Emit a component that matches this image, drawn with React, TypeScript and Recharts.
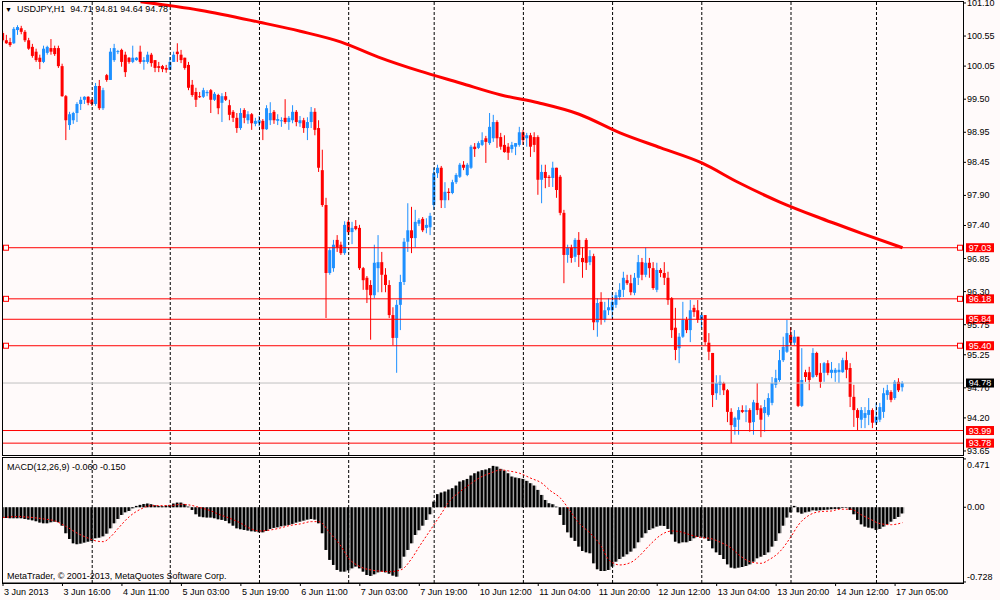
import { ComposedChart, Bar, Line, XAxis, YAxis, ReferenceLine } from 'recharts';

// USDJPY H1, 3 Jun 2013 00:00 .. 17 Jun 2013 07:00 (243 bars)
const opens = [
  100.60, 100.48, 100.45, 100.43, 100.65, 100.68, 100.62, 100.48, 100.37, 100.29,
  100.19, 100.12, 100.27, 100.35, 100.35, 100.35, 100.05, 99.55, 99.07, 99.15,
  99.27, 99.42, 99.49, 99.54, 99.49, 99.42, 99.72, 99.35, 99.90, 99.82,
  100.15, 100.29, 100.32, 100.24, 100.19, 100.12, 100.15, 100.29, 100.12, 100.12,
  100.24, 100.15, 100.05, 100.05, 100.02, 99.99, 100.12, 100.29, 100.24, 100.19,
  100.07, 99.74, 99.62, 99.55, 99.54, 99.60, 99.65, 99.49, 99.57, 99.44,
  99.55, 99.40, 99.29, 99.19, 99.02, 99.32, 99.15, 99.25, 99.09, 99.10,
  99.14, 99.00, 99.15, 99.29, 99.14, 99.14, 99.19, 99.12, 99.15, 99.29,
  99.10, 99.15, 99.02, 99.12, 99.29, 99.02, 98.32, 97.74, 96.61, 96.69,
  97.16, 97.08, 96.94, 97.46, 97.29, 97.39, 97.36, 96.69, 96.53, 96.41,
  96.24, 96.69, 96.79, 96.58, 96.41, 95.91, 95.53, 96.08, 96.46, 97.13,
  97.32, 97.19, 97.43, 97.51, 97.36, 97.37, 97.74, 98.27, 98.36, 97.82,
  97.96, 97.94, 98.12, 98.21, 98.41, 98.24, 98.36, 98.71, 98.69, 98.74,
  98.85, 98.77, 98.85, 99.12, 98.87, 98.74, 98.71, 98.67, 98.71, 98.74,
  98.95, 98.85, 98.90, 98.87, 98.87, 98.16, 98.29, 98.21, 98.19, 98.36,
  98.21, 97.61, 96.91, 97.03, 96.88, 97.16, 96.86, 97.16, 96.79, 96.89,
  95.79, 96.13, 95.83, 95.99, 95.99, 96.08, 96.21, 96.33, 96.49, 96.44,
  96.28, 96.53, 96.79, 96.58, 96.78, 96.69, 96.33, 96.66, 96.61, 96.53,
  96.19, 95.70, 95.36, 95.55, 95.83, 95.66, 96.03, 95.99, 95.83, 95.91,
  95.45, 95.28, 94.61, 94.75, 94.78, 94.66, 94.30, 94.05, 94.17, 94.33,
  94.30, 94.33, 94.13, 94.45, 94.36, 94.28, 94.25, 94.45, 94.75, 94.83,
  95.16, 95.30, 95.58, 95.45, 95.55, 94.40, 94.96, 94.96, 94.88, 95.28,
  94.95, 94.95, 95.11, 94.95, 94.95, 94.96, 94.96, 95.16, 95.03, 94.55,
  94.33, 94.17, 94.20, 94.25, 94.33, 94.12, 94.17, 94.30, 94.58, 94.63,
  94.53, 94.80, 94.71,
];

const highs = [
  100.63, 100.57, 100.52, 100.70, 100.73, 100.72, 100.65, 100.52, 100.42, 100.34,
  100.24, 100.39, 100.39, 100.50, 100.39, 100.39, 100.09, 99.57, 99.29, 99.29,
  99.45, 99.54, 99.55, 99.55, 99.50, 99.77, 99.82, 99.69, 99.92, 100.35,
  100.42, 100.32, 100.34, 100.29, 100.20, 100.39, 100.20, 100.39, 100.20, 100.29,
  100.27, 100.15, 100.12, 100.07, 100.07, 100.20, 100.29, 100.43, 100.32, 100.19,
  100.12, 99.82, 99.69, 99.62, 99.69, 99.65, 99.67, 99.62, 99.59, 99.60,
  99.62, 99.49, 99.32, 99.27, 99.35, 99.35, 99.30, 99.27, 99.19, 99.22,
  99.17, 99.40, 99.45, 99.32, 99.25, 99.20, 99.50, 99.22, 99.40, 99.32,
  99.22, 99.19, 99.20, 99.37, 99.35, 99.15, 98.66, 97.86, 97.03, 97.16,
  97.24, 97.13, 97.47, 97.49, 97.46, 97.49, 97.41, 96.71, 96.56, 96.49,
  97.08, 97.24, 96.96, 96.69, 96.49, 96.04, 96.16, 96.58, 97.19, 97.77,
  97.71, 97.66, 97.52, 97.54, 97.52, 97.61, 98.36, 98.41, 98.39, 98.12,
  98.02, 98.16, 98.27, 98.44, 98.47, 98.44, 98.74, 98.77, 98.80, 98.95,
  98.89, 99.27, 99.24, 99.15, 98.94, 98.90, 98.77, 98.79, 98.77, 99.04,
  98.99, 98.94, 98.94, 98.95, 98.90, 98.41, 98.41, 98.24, 98.46, 98.36,
  98.24, 97.66, 97.08, 97.08, 97.19, 97.29, 97.04, 97.19, 96.99, 96.93,
  96.19, 96.29, 96.13, 96.19, 96.29, 96.29, 96.44, 96.63, 96.58, 96.58,
  96.61, 96.91, 96.86, 97.03, 96.86, 96.79, 96.78, 96.69, 96.79, 96.63,
  96.21, 96.03, 95.61, 96.13, 95.88, 96.16, 96.08, 96.16, 95.94, 95.91,
  95.61, 95.28, 94.91, 94.91, 94.80, 94.68, 94.36, 94.22, 94.38, 94.41,
  94.41, 94.36, 94.50, 94.78, 94.41, 94.50, 94.61, 94.88, 95.00, 95.33,
  95.55, 95.83, 95.71, 95.66, 95.55, 95.36, 95.00, 95.05, 95.36, 95.30,
  95.11, 95.13, 95.16, 95.13, 95.03, 95.11, 95.20, 95.30, 95.11, 94.75,
  94.36, 94.38, 94.38, 94.53, 94.36, 94.45, 94.45, 94.70, 94.75, 94.66,
  94.83, 94.86, 94.81,
];

const lows = [
  100.45, 100.42, 100.37, 100.42, 100.57, 100.58, 100.45, 100.32, 100.19, 100.12,
  100.00, 100.10, 100.24, 100.24, 100.22, 100.02, 99.54, 98.82, 98.99, 99.09,
  99.12, 99.32, 99.42, 99.40, 99.39, 99.39, 99.32, 99.32, 99.79, 99.82,
  100.12, 100.25, 100.04, 99.87, 100.09, 100.10, 100.14, 100.09, 99.99, 100.09,
  100.04, 99.95, 99.95, 99.95, 99.94, 99.99, 100.12, 100.12, 100.10, 99.99,
  99.65, 99.54, 99.37, 99.52, 99.52, 99.55, 99.27, 99.47, 99.25, 99.12,
  99.47, 99.15, 99.12, 98.94, 98.99, 99.10, 99.09, 98.99, 99.05, 99.05,
  98.82, 98.99, 99.07, 99.09, 99.07, 99.04, 99.09, 98.99, 99.10, 99.05,
  99.04, 98.94, 98.82, 99.02, 98.90, 98.29, 97.71, 95.86, 96.58, 96.63,
  96.96, 96.91, 96.91, 97.24, 97.09, 97.32, 96.66, 96.33, 96.11, 95.50,
  96.19, 96.29, 96.29, 96.29, 95.86, 95.41, 94.95, 95.66, 96.41, 96.96,
  96.94, 97.04, 97.39, 97.29, 97.27, 97.24, 97.66, 98.19, 97.69, 97.69,
  97.82, 97.92, 98.09, 98.19, 98.32, 98.22, 98.34, 98.54, 98.67, 98.72,
  98.44, 98.74, 98.79, 98.69, 98.66, 98.61, 98.49, 98.61, 98.57, 98.71,
  98.74, 98.71, 98.54, 98.62, 97.91, 97.77, 98.02, 98.04, 98.04, 97.86,
  97.57, 96.44, 96.78, 96.78, 96.79, 96.71, 96.53, 96.66, 96.74, 95.66,
  95.55, 95.75, 95.79, 95.91, 95.83, 96.03, 96.16, 96.21, 96.41, 96.24,
  96.24, 96.41, 96.49, 96.54, 96.53, 96.33, 96.29, 96.54, 96.41, 96.08,
  95.53, 95.16, 95.11, 95.53, 95.61, 95.46, 95.88, 95.78, 95.70, 95.41,
  95.16, 94.38, 94.50, 94.58, 94.58, 94.13, 93.78, 93.92, 93.92, 94.28,
  94.13, 93.97, 93.92, 94.25, 93.88, 93.97, 94.22, 94.41, 94.70, 94.80,
  95.13, 95.28, 95.41, 95.41, 94.38, 94.38, 94.80, 94.66, 94.86, 94.88,
  94.70, 94.80, 94.91, 94.86, 94.80, 94.78, 94.95, 94.86, 94.38, 94.05,
  93.99, 94.03, 94.03, 94.08, 94.03, 94.08, 94.13, 94.20, 94.50, 94.46,
  94.50, 94.63, 94.64,
];

const closes = [
  100.48, 100.43, 100.40, 100.67, 100.70, 100.62, 100.48, 100.34, 100.22, 100.15,
  100.12, 100.34, 100.37, 100.29, 100.25, 100.05, 99.55, 99.15, 99.25, 99.27,
  99.42, 99.49, 99.54, 99.44, 99.42, 99.72, 99.35, 99.65, 99.82, 100.29,
  100.35, 100.30, 100.12, 99.95, 100.12, 100.19, 100.19, 100.12, 100.15, 100.24,
  100.10, 100.02, 100.02, 100.00, 99.99, 100.12, 100.24, 100.25, 100.15, 100.02,
  99.69, 99.57, 99.49, 99.54, 99.65, 99.62, 99.49, 99.59, 99.35, 99.55,
  99.49, 99.24, 99.19, 99.02, 99.27, 99.19, 99.25, 99.10, 99.14, 99.15,
  99.00, 99.35, 99.27, 99.15, 99.17, 99.15, 99.12, 99.19, 99.29, 99.12,
  99.15, 99.02, 99.12, 99.29, 98.99, 98.36, 97.74, 96.61, 96.99, 97.08,
  97.03, 96.94, 97.41, 97.29, 97.36, 97.34, 96.69, 96.49, 96.33, 96.24,
  96.78, 96.79, 96.58, 96.41, 95.91, 95.53, 96.08, 96.46, 97.13, 97.32,
  97.19, 97.46, 97.49, 97.32, 97.41, 97.56, 98.27, 98.36, 97.82, 97.96,
  97.94, 98.12, 98.24, 98.41, 98.36, 98.41, 98.71, 98.67, 98.77, 98.82,
  98.79, 99.04, 99.12, 98.85, 98.71, 98.62, 98.61, 98.74, 98.77, 98.95,
  98.82, 98.90, 98.71, 98.74, 98.16, 98.29, 98.19, 98.19, 98.36, 97.99,
  97.61, 96.91, 97.03, 96.86, 97.16, 96.91, 96.79, 96.78, 96.89, 95.79,
  96.11, 95.83, 95.99, 96.04, 96.13, 96.24, 96.33, 96.53, 96.44, 96.29,
  96.53, 96.79, 96.58, 96.78, 96.69, 96.36, 96.66, 96.61, 96.53, 96.16,
  95.66, 95.33, 95.55, 95.83, 95.66, 95.99, 95.96, 95.83, 95.91, 95.46,
  95.30, 94.58, 94.78, 94.80, 94.66, 94.30, 94.08, 94.20, 94.33, 94.30,
  94.33, 94.12, 94.46, 94.33, 94.17, 94.38, 94.53, 94.78, 94.86, 95.16,
  95.38, 95.61, 95.45, 95.55, 94.40, 94.83, 94.88, 94.83, 95.28, 94.91,
  94.80, 95.11, 94.95, 95.00, 95.00, 95.00, 95.16, 95.00, 94.55, 94.33,
  94.20, 94.33, 94.28, 94.33, 94.12, 94.22, 94.38, 94.61, 94.66, 94.50,
  94.80, 94.66, 94.78,
];

// 200-period moving average, sampled where it could be read: [bar, price]
const maPoints: [number, number][] = [
  [37, 101.12], [53, 100.98], [69, 100.78], [80, 100.63], [91, 100.45], [101, 100.20],
  [112, 99.97], [123, 99.77], [134, 99.57], [144, 99.44], [155, 99.25], [166, 98.94],
  [177, 98.69], [188, 98.44], [198, 98.11], [209, 97.79], [220, 97.52], [231, 97.27], [242, 97.03],
];

// MACD(12,26,9) main line, one value per bar
const macdHist = [
  -0.100, -0.104, -0.107, -0.107, -0.107, -0.107, -0.114, -0.120, -0.127, -0.136,
  -0.149, -0.156, -0.156, -0.146, -0.140, -0.146, -0.179, -0.253, -0.309, -0.351,
  -0.360, -0.354, -0.344, -0.335, -0.328, -0.302, -0.296, -0.283, -0.257, -0.205,
  -0.156, -0.114, -0.075, -0.049, -0.036, -0.010, 0.013, 0.023, 0.032, 0.036,
  0.029, 0.019, 0.013, 0.010, 0.016, 0.023, 0.036, 0.045, 0.045, 0.032,
  0.006, -0.026, -0.068, -0.091, -0.097, -0.100, -0.100, -0.107, -0.117, -0.123,
  -0.133, -0.156, -0.179, -0.205, -0.214, -0.221, -0.227, -0.234, -0.237, -0.244,
  -0.244, -0.231, -0.211, -0.201, -0.195, -0.185, -0.179, -0.172, -0.162, -0.149,
  -0.140, -0.130, -0.120, -0.114, -0.120, -0.156, -0.253, -0.416, -0.513, -0.562,
  -0.611, -0.627, -0.627, -0.614, -0.595, -0.578, -0.595, -0.627, -0.660, -0.669,
  -0.653, -0.634, -0.627, -0.634, -0.647, -0.666, -0.676, -0.595, -0.481, -0.416,
  -0.351, -0.270, -0.224, -0.179, -0.123, -0.068, 0.055, 0.127, 0.143, 0.153,
  0.172, 0.185, 0.211, 0.250, 0.263, 0.276, 0.309, 0.331, 0.348, 0.361,
  0.367, 0.380, 0.403, 0.396, 0.374, 0.357, 0.331, 0.299, 0.289, 0.283,
  0.276, 0.257, 0.234, 0.211, 0.169, 0.120, 0.071, 0.039, 0.029, 0.006,
  -0.075, -0.172, -0.244, -0.296, -0.328, -0.383, -0.426, -0.439, -0.448, -0.546,
  -0.604, -0.621, -0.621, -0.611, -0.578, -0.530, -0.504, -0.481, -0.458, -0.432,
  -0.400, -0.341, -0.296, -0.253, -0.221, -0.205, -0.188, -0.179, -0.182, -0.211,
  -0.263, -0.335, -0.351, -0.341, -0.341, -0.328, -0.302, -0.289, -0.286, -0.302,
  -0.328, -0.400, -0.439, -0.465, -0.504, -0.556, -0.588, -0.595, -0.588, -0.582,
  -0.572, -0.556, -0.530, -0.497, -0.481, -0.465, -0.439, -0.383, -0.328, -0.253,
  -0.179, -0.100, -0.049, 0.013, -0.049, -0.062, -0.049, -0.042, -0.029, -0.032,
  -0.029, -0.026, -0.023, -0.019, -0.016, -0.016, -0.006, -0.003, -0.026, -0.068,
  -0.123, -0.166, -0.188, -0.198, -0.205, -0.221, -0.211, -0.188, -0.166, -0.140,
  -0.114, -0.094, -0.060,
];

// MACD signal line, sampled: [bar, value]
const signalPoints: [number, number][] = [
  [0, -0.100], [4, -0.091], [7, -0.097], [11, -0.114], [14, -0.133], [17, -0.188], [20, -0.253],
  [23, -0.302], [25, -0.328], [27, -0.335], [29, -0.286], [31, -0.205], [34, -0.091], [37, -0.019],
  [40, 0.016], [42, 0.016], [45, 0.016], [48, 0.029], [50, 0.023], [53, -0.003], [56, -0.036],
  [58, -0.068], [61, -0.107], [64, -0.156], [66, -0.198], [69, -0.231], [72, -0.221], [75, -0.198],
  [77, -0.179], [80, -0.162], [83, -0.140], [85, -0.140], [88, -0.253], [91, -0.383], [93, -0.497],
  [96, -0.578], [99, -0.611], [101, -0.621], [104, -0.627], [107, -0.611], [110, -0.497], [112, -0.383],
  [115, -0.221], [118, -0.058], [120, 0.055], [123, 0.153], [126, 0.234], [128, 0.283], [131, 0.331],
  [134, 0.364], [136, 0.354], [139, 0.331], [142, 0.283], [145, 0.234], [147, 0.169], [150, 0.088],
  [153, -0.058], [155, -0.156], [158, -0.253], [161, -0.383], [163, -0.513], [166, -0.562], [169, -0.536],
  [171, -0.481], [174, -0.367], [177, -0.270], [180, -0.231], [182, -0.237], [185, -0.270], [188, -0.296],
  [190, -0.302], [193, -0.341], [196, -0.400], [198, -0.465], [201, -0.530], [204, -0.546], [206, -0.513],
  [209, -0.432], [212, -0.286], [214, -0.172], [217, -0.075], [220, -0.042], [223, -0.036], [225, -0.019],
  [228, -0.019], [231, -0.075], [233, -0.110], [236, -0.160], [239, -0.170], [242, -0.150],
];

const timeTicks = [0, 16, 32, 48, 64, 80, 96, 112, 128, 144, 160, 176, 192, 208, 224, 240];
const timeLabels = [
  '3 Jun 2013', '3 Jun 16:00', '4 Jun 11:00', '5 Jun 03:00', '5 Jun 19:00', '6 Jun 11:00',
  '7 Jun 03:00', '7 Jun 19:00', '10 Jun 12:00', '11 Jun 04:00', '11 Jun 20:00', '12 Jun 12:00',
  '13 Jun 04:00', '13 Jun 20:00', '14 Jun 12:00', '17 Jun 05:00',
];
const daySeparators = [24, 45, 69, 93, 116, 140, 164, 188, 212, 235];

const priceTicks = [101.10, 100.55, 100.05, 99.50, 98.95, 98.45, 97.90, 97.40, 96.85, 96.30, 95.75, 95.25, 94.70, 94.20, 93.65];
const macdTicks = [0.471, 0, -0.728];

const levels = [97.03, 96.18, 95.84, 95.40, 93.99, 93.78];
const anchoredLevels = [97.03, 96.18, 95.40];
const bid = 94.78;

const FONT = '"Liberation Sans", Arial, sans-serif';
const BG = '#FFFAFA';
const BULL = '#1E90FF';
const BEAR = '#FF0000';

// one slot per bar: first bar sits 1px inside the 961px wide plot
const STEP = 3.717;
const X_DOMAIN: [number, number] = [-1 / STEP, (961 - 1) / STEP];

const maMap = new Map(maPoints);
const sigMap = new Map(signalPoints);

const data = closes.map((close, i) => ({
  idx: i,
  open: opens[i],
  high: highs[i],
  low: lows[i],
  close,
  range: [lows[i], highs[i]],
  ma: maMap.has(i) ? maMap.get(i) : null,
  macd: macdHist[i],
  signal: sigMap.has(i) ? sigMap.get(i) : null,
}));

function Candle(props: any) {
  const { x, y, width, height, payload } = props;
  if (x == null || y == null || !payload) return null;
  const top = Math.min(y, y + height);
  const h = Math.abs(height);
  const { open, high, low, close } = payload;
  const span = high - low;
  const toY = (p: number) => (span > 0 ? top + ((high - p) / span) * h : top);
  const cx = x + width / 2;
  const color = close >= open ? BULL : BEAR;
  const yo = toY(open);
  const yc = toY(close);
  const bodyTop = Math.min(yo, yc);
  const bodyH = Math.max(Math.abs(yc - yo), 1);
  return (
    <g>
      <line x1={cx} x2={cx} y1={top} y2={top + Math.max(h, 1)} stroke={color} strokeWidth={1} />
      <rect x={cx - 1.5} y={bodyTop} width={3} height={bodyH} fill={color} />
    </g>
  );
}

function MacdBar(props: any) {
  const { x, y, width, height } = props;
  if (x == null || y == null) return null;
  const top = Math.min(y, y + height);
  const h = Math.max(Math.abs(height), 0.5);
  return (
    <g>
      <rect x={x} y={top} width={width} height={h} fill="#a0a0a0" />
      <rect x={x} y={top} width={width * 0.62} height={h} fill="#000" />
    </g>
  );
}

function PriceTick(props: any) {
  const { x, y, payload } = props;
  return (
    <text x={x} y={y} dy={3} fontSize={9} fontFamily={FONT} fill="#000">
      {payload.value.toFixed(2)}
    </text>
  );
}

function MacdTick(props: any) {
  const { x, y, payload } = props;
  const v = payload.value;
  const dy = v > 0.4 ? 9 : v < -0.7 ? -2 : 3;
  return (
    <text x={x} y={y} dy={dy} fontSize={9} fontFamily={FONT} fill="#000">
      {v === 0 ? '0.00' : v.toFixed(3)}
    </text>
  );
}

function TimeTick(props: any) {
  const { x, y, payload } = props;
  const label = timeLabels[timeTicks.indexOf(payload.value)] ?? '';
  return (
    <text x={x + 1} y={y} dy={9} fontSize={9} fontFamily={FONT} fill="#000" textAnchor="start">
      {label}
    </text>
  );
}

const levelLabel = (value: number, bg: string, anchors: boolean) => (props: any) => {
  const vb = props.viewBox;
  if (!vb) return null;
  const { x, y, width } = vb;
  return (
    <g>
      {anchors && <rect x={x + 1.5} y={y - 2.5} width={5} height={5} fill={BG} stroke={BEAR} strokeWidth={1} />}
      {anchors && <rect x={x + width - 5.5} y={y - 2.5} width={5} height={5} fill={BG} stroke={BEAR} strokeWidth={1} />}
      <rect x={x + width + 3} y={y - 4.5} width={28} height={9} fill={bg} />
      <text x={x + width + 17} y={y + 3.2} textAnchor="middle" fontSize={9} fontFamily={FONT} fill="#fff">
        {value.toFixed(2)}
      </text>
    </g>
  );
};

const frame = (left: number, top: number, w: number, h: number) => ({
  position: 'absolute' as const,
  left,
  top,
  width: w,
  height: h,
  border: '1px solid #000',
  boxSizing: 'border-box' as const,
  pointerEvents: 'none' as const,
});

export default function App() {
  const last = data.length - 1;
  const ohlc = [opens[last], highs[last], lows[last], closes[last]].map(v => v.toFixed(2)).join(' ');
  const macdLast = macdHist[last].toFixed(3);
  const sigLast = signalPoints[signalPoints.length - 1][1].toFixed(3);

  return (
    <div style={{ position: 'absolute', left: 0, top: 0, width: 1000, height: 600, background: BG, fontFamily: FONT, overflow: 'hidden' }}>
      <div style={{ position: 'absolute', left: 0, top: 0 }}>
        <ComposedChart width={1000} height={456} data={data} margin={{ top: 1, right: 0, bottom: 1, left: 2 }}>
          <XAxis type="number" dataKey="idx" domain={X_DOMAIN} allowDataOverflow hide />
          <YAxis
            orientation="right"
            width={37}
            type="number"
            domain={[93.583, 101.133]}
            allowDataOverflow
            ticks={priceTicks}
            interval={0}
            axisLine={false}
            tickLine={{ stroke: '#000' }}
            tickSize={3}
            tickMargin={1}
            tick={<PriceTick />}
          />
          {daySeparators.map(d => (
            <ReferenceLine key={`sep-${d}`} x={d} stroke="#000" strokeDasharray="3 2" />
          ))}
          <ReferenceLine y={bid} stroke="#C0C0C0" label={levelLabel(bid, '#000', false)} />
          <Bar dataKey="range" barSize={3} shape={<Candle />} isAnimationActive={false} />
          <Line
            dataKey="ma"
            type="monotone"
            stroke={BEAR}
            strokeWidth={3}
            dot={false}
            connectNulls
            isAnimationActive={false}
          />
          {levels.map(l => (
            <ReferenceLine
              key={`lvl-${l}`}
              y={l}
              stroke={BEAR}
              label={levelLabel(l, BEAR, anchoredLevels.includes(l))}
            />
          ))}
        </ComposedChart>
      </div>

      <div style={{ position: 'absolute', left: 0, top: 456 }}>
        <ComposedChart width={1000} height={144} data={data} margin={{ top: 2, right: 0, bottom: 0, left: 2 }}>
          <XAxis
            type="number"
            dataKey="idx"
            domain={X_DOMAIN}
            allowDataOverflow
            ticks={timeTicks}
            interval={0}
            height={17}
            tickSize={3}
            tickMargin={0}
            tickLine={{ stroke: '#000' }}
            axisLine={{ stroke: '#000' }}
            tick={<TimeTick />}
          />
          <YAxis
            orientation="right"
            width={37}
            type="number"
            domain={[-0.738, 0.48]}
            allowDataOverflow
            ticks={macdTicks}
            interval={0}
            axisLine={false}
            tickLine={{ stroke: '#000' }}
            tickSize={3}
            tickMargin={1}
            tick={<MacdTick />}
          />
          {daySeparators.map(d => (
            <ReferenceLine key={`msep-${d}`} x={d} stroke="#000" strokeDasharray="3 2" />
          ))}
          <Bar dataKey="macd" barSize={3.7} shape={<MacdBar />} isAnimationActive={false} />
          <Line
            dataKey="signal"
            type="monotone"
            stroke={BEAR}
            strokeWidth={1}
            strokeDasharray="2 2"
            dot={false}
            connectNulls
            isAnimationActive={false}
          />
        </ComposedChart>
      </div>

      <div style={frame(2, 1, 962, 455)} />
      <div style={frame(2, 457, 962, 127)} />

      <div style={{ position: 'absolute', left: 5, top: 4, fontSize: 9, whiteSpace: 'pre', color: '#000' }}>
        <span style={{ fontSize: 7 }}>▼</span>{'  USDJPY,H1  '}{ohlc}
      </div>
      <div style={{ position: 'absolute', left: 7, top: 462, fontSize: 9, whiteSpace: 'pre', color: '#000' }}>
        {`MACD(12,26,9) ${macdLast} ${sigLast}`}
      </div>
      <div style={{ position: 'absolute', left: 7, top: 571, fontSize: 9, whiteSpace: 'pre', color: '#000' }}>
        MetaTrader, © 2001-2013, MetaQuotes Software Corp.
      </div>
    </div>
  );
}
